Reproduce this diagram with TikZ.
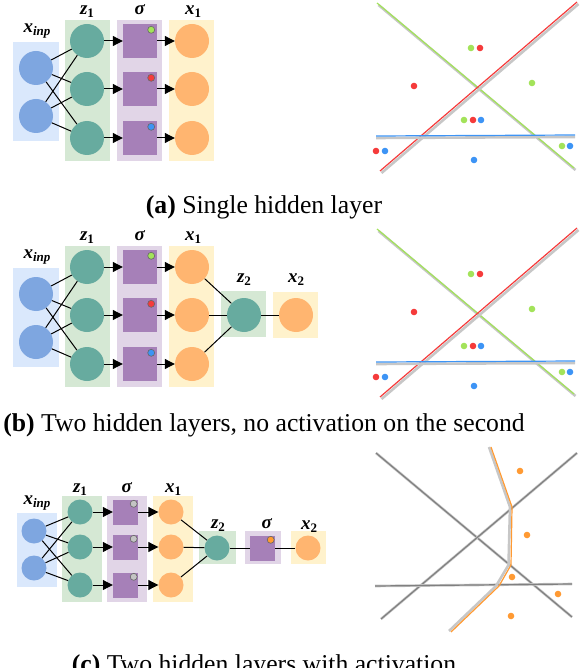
\documentclass[tikz,border=0pt]{standalone}
\usepackage{fontspec}
\setmainfont{Liberation Serif}
\usetikzlibrary{arrows.meta}

\definecolor{inpfill}{HTML}{7EA6E0}
\definecolor{inpback}{HTML}{DAE8FC}
\definecolor{hidfill}{HTML}{67AB9F}
\definecolor{hidback}{HTML}{D5E8D4}
\definecolor{actfill}{HTML}{A680B8}
\definecolor{actback}{HTML}{E1D5E7}
\definecolor{outfill}{HTML}{FFB570}
\definecolor{outback}{HTML}{FFF2CC}
\definecolor{dotgreen}{HTML}{A3E35A}
\definecolor{dotred}{HTML}{F53B3B}
\definecolor{dotblue}{HTML}{3D94F5}
\definecolor{dotorange}{HTML}{FF9A33}
\definecolor{dotgray}{HTML}{C4C4C4}

\newcommand{\vlbl}[2]{\textbf{\textit{#1}}\raisebox{-0.35ex}{\fontsize{13}{13}\selectfont\bfseries #2}}

\tikzset{
  unit/.style={circle, minimum size=34pt, inner sep=0pt},
  inpunit/.style={unit, fill=inpfill},
  hidunit/.style={unit, fill=hidfill},
  outunit/.style={unit, fill=outfill},
  actunit/.style={rectangle, minimum size=34pt, inner sep=0pt, fill=actfill},
  small/.style={minimum size=25pt},
  flag/.style={circle, minimum size=7pt, inner sep=0pt, draw=black!60, line width=0.6pt},
  wire/.style={line width=1pt},
  arr/.style={wire, -{Triangle[length=10pt,width=10pt]}},
  lbl/.style={font=\fontsize{19}{19}\selectfont, inner sep=0pt},
  caption/.style={font=\fontsize{25.7}{30}\selectfont, anchor=base, inner sep=0pt},
  shade/.style={line width=2.6pt, black!22},
  trace/.style={line width=1.2pt},
  pt/.style={circle, minimum size=6.6pt, inner sep=0pt},
}

\begin{document}
\begin{tikzpicture}[x=1pt, y=-1pt]
    \useasboundingbox (0,0) rectangle (580,668);

    \foreach \p/\dy in {a/0,b/226} {
        \begin{scope}[yshift=-\dy pt]
            \fill[inpback] (13,42) rectangle (59,141);
            \fill[hidback] (65,20) rectangle (110,161);
            \fill[actback] (117,20) rectangle (162,161);
            \fill[outback] (169,20) rectangle (214,161);
            \node[lbl] (\p-linp) at (37,31) {\vlbl{x}{\textit{inp}}};
            \node[lbl] (\p-lza) at (87,12) {\vlbl{z}{1}};
            \node[lbl] (\p-lsa) at (140,10) {\textbf{\textit{σ}}};
            \node[lbl] (\p-lxa) at (193,12) {\vlbl{x}{1}};
            \foreach \i/\y in {1/68,2/116}
                \node[inpunit] (\p-in\i) at (36,\y) {};
            \foreach \j/\y/\c in {1/41/dotgreen,2/89/dotred,3/138/dotblue} {
                \node[hidunit] (\p-za\j) at (87,\y) {};
                \node[actunit] (\p-sa\j) at (140,\y) {};
                \node[flag, fill=\c] (\p-fa\j) at ([shift={(-6,6)}]\p-sa\j.north east) {};
                \node[outunit] (\p-xa\j) at (192,\y) {};
                \draw[arr] (\p-za\j) -- (\p-sa\j);
                \draw[arr] (\p-sa\j) -- (\p-xa\j);
            }
            \foreach \i in {1,2}
                \foreach \j in {1,2,3}
                    \draw[wire] (\p-in\i) -- (\p-za\j);

            \draw[shade] (378.5,5) -- (575.5,170);
            \draw[trace, dotgreen] (377,3) -- (574,168);
            \draw[shade] (381.5,173) -- (578.5,4);
            \draw[trace, dotred] (380,171) -- (577,2);
            \draw[shade] (376,138) -- (575,137);
            \draw[trace, dotblue] (376,136) -- (575,135);
            \foreach \x/\y/\c in {471/48/dotgreen, 480/48/dotred, 414/86/dotred,
                    532/83/dotgreen, 464/120/dotgreen, 473/120/dotred, 481/120/dotblue,
                    376/151/dotred, 385/151/dotblue, 474/160/dotblue,
                    562/146/dotgreen, 570/146/dotblue}
                \node[pt, fill=\c] at (\x,\y) {};
        \end{scope}
    }

    \fill[hidback] (221,291) rectangle (266,337);
    \fill[outback] (273,292) rectangle (318,338);
    \node[lbl] (b-lzb) at (244,280) {\vlbl{z}{2}};
    \node[lbl] (b-lxb) at (296,280) {\vlbl{x}{2}};
    \node[hidunit] (b-zb) at (244,315) {};
    \node[outunit] (b-xb) at (296,315) {};
    \foreach \j in {1,2,3}
        \draw[wire] (b-xa\j) -- (b-zb);
    \draw[wire] (b-zb) -- (b-xb);

    \fill[inpback] (17,513) rectangle (57,587);
    \fill[hidback] (62,496) rectangle (102,602);
    \fill[actback] (107,496) rectangle (147,602);
    \fill[outback] (153,496) rectangle (193,602);
    \fill[hidback] (199,531) rectangle (236,564);
    \fill[actback] (245,531) rectangle (281,564);
    \fill[outback] (291,531) rectangle (326,564);
    \node[lbl] (c-linp) at (37,503) {\vlbl{x}{\textit{inp}}};
    \node[lbl] (c-lza) at (80,490) {\vlbl{z}{1}};
    \node[lbl] (c-lsa) at (127,488) {\textbf{\textit{σ}}};
    \node[lbl] (c-lxa) at (173,490) {\vlbl{x}{1}};
    \node[lbl] (c-lzb) at (218,526) {\vlbl{z}{2}};
    \node[lbl] (c-lsb) at (267,524) {\textbf{\textit{σ}}};
    \node[lbl] (c-lxb) at (309,527) {\vlbl{x}{2}};
    \foreach \i/\y in {1/531,2/568}
        \node[inpunit, small] (c-in\i) at (34,\y) {};
    \foreach \j/\y in {1/512,2/547,3/585} {
        \node[hidunit, small] (c-za\j) at (80,\y) {};
        \node[actunit, small] (c-sa\j) at (125.5,\y) {};
        \node[flag, fill=dotgray] (c-fa\j) at ([shift={(-4.5,4.5)}]c-sa\j.north east) {};
        \node[outunit, small] (c-xa\j) at (171,\y) {};
        \draw[arr] (c-za\j) -- (c-sa\j);
        \draw[arr] (c-sa\j) -- (c-xa\j);
    }
    \foreach \i in {1,2}
        \foreach \j in {1,2,3}
            \draw[wire] (c-in\i) -- (c-za\j);
    \node[hidunit, small] (c-zb) at (217,548) {};
    \node[actunit, small] (c-sb) at (262.5,548) {};
    \node[flag, fill=dotorange] (c-fb) at ([shift={(-4.5,4.5)}]c-sb.north east) {};
    \node[outunit, small] (c-xb) at (308,548) {};
    \foreach \j in {1,2,3}
        \draw[wire] (c-xa\j) -- (c-zb);
    \draw[wire] (c-zb) -- (c-sb);
    \draw[wire] (c-sb) -- (c-xb);

    \draw[shade] (376,453) -- (572,617);
    \draw[trace, black!50] (376,453) -- (572,617);
    \draw[shade] (381,619) -- (577,453);
    \draw[trace, black!50] (381,619) -- (577,453);
    \draw[shade] (375,586) -- (572,584);
    \draw[trace, black!50] (375,586) -- (572,584);
    \draw[shade] (489,447) -- (510,507) -- (508.5,565) -- (496,586) -- (449,631);
    \draw[trace, dotorange] (491,447) -- (512,507) -- (511,565) -- (499,586) -- (451,632);
    \foreach \x/\y in {520/471, 527/535, 512/577, 558/594, 511/616}
        \node[pt, fill=dotorange] at (\x,\y) {};

    \node[caption] (capa) at (264,214) {\textbf{(a)} Single hidden layer};
    \node[caption] (capb) at (264,431) {\textbf{(b)} Two hidden layers, no activation on the second};
    \node[caption] (capc) at (264,672) {\textbf{(c)} Two hidden layers with activation};
\end{tikzpicture}
\end{document}
